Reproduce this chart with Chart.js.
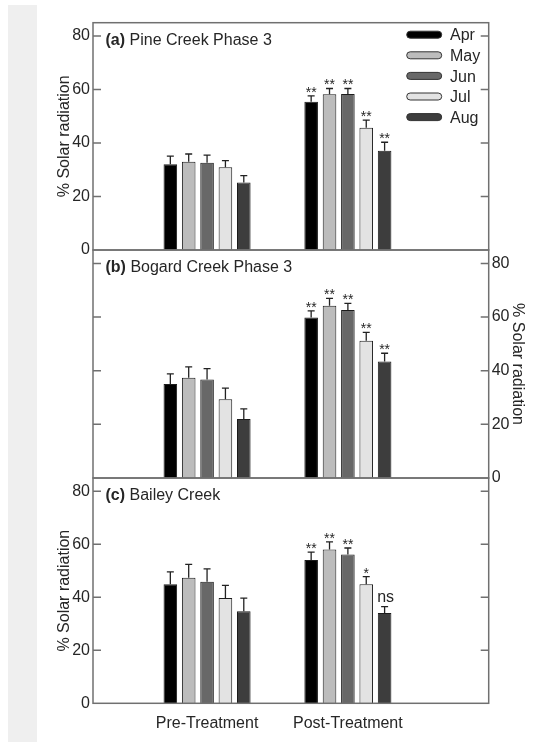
<!DOCTYPE html>
<html>
<head>
<meta charset="utf-8">
<script src="https://cdn.jsdelivr.net/npm/chart.js@4"></script>
<style>
html,body{margin:0;padding:0;background:#fff;}
#wrap{position:relative;width:537px;height:742px;background:#fff;overflow:hidden;}
#band{position:absolute;left:8px;top:5px;width:29px;height:737px;background:#efefef;}
canvas{position:absolute;left:0;}
</style>
</head>
<body>
<div id="wrap">
<div id="band"></div>
<canvas id="ca" width="537" height="264" style="top:0px;width:537px;height:264px"></canvas>
<canvas id="cb" width="537" height="255" style="top:236px;width:537px;height:255px"></canvas>
<canvas id="cc" width="537" height="278" style="top:464px;width:537px;height:278px"></canvas>
</div>
<script>
// ---------- data ----------
const months = ['Apr', 'May', 'Jun', 'Jul', 'Aug'];
const groupLabels = ['Pre-Treatment', 'Post-Treatment'];
const yTicks = [0, 20, 40, 60, 80];
const yLabel = '% Solar radiation';

const pinePre = [32.1, 33.0, 32.6, 30.9, 25.2];
const pinePreErr = [3.0, 2.9, 2.9, 2.5, 2.6];
const pinePost = [55.4, 58.2, 58.3, 45.7, 37.1];
const pinePostErr = [2.2, 2.2, 2.1, 2.9, 3.2];
const pineSig = ['**', '**', '**', '**', '**'];

const bogardPre = [35.0, 37.4, 36.7, 29.4, 22.0];
const bogardPreErr = [3.8, 4.0, 4.1, 4.1, 3.8];
const bogardPost = [59.8, 64.2, 62.6, 51.2, 43.4];
const bogardPostErr = [2.5, 2.8, 2.5, 3.1, 3.1];
const bogardSig = ['**', '**', '**', '**', '**'];

const baileyPre = [44.9, 47.4, 45.9, 39.7, 34.7];
const baileyPreErr = [4.7, 5.0, 4.8, 4.8, 5.0];
const baileyPost = [54.1, 58.0, 56.1, 44.9, 34.1];
const baileyPostErr = [2.9, 2.9, 2.5, 2.9, 2.4];
const baileySig = ['**', '**', '**', '*', 'ns'];

const panelTags = ['(a)', '(b)', '(c)'];
const panelNames = [' Pine Creek Phase 3', ' Bogard Creek Phase 3', ' Bailey Creek'];

// ---------- styling ----------
const monthColors = ['#000000', '#bcbcbc', '#686868', '#e3e3e3', '#3d3d3d'];
const FONT = "'Liberation Sans', Arial, Helvetica, sans-serif";
const TXT = '#262626';
Chart.defaults.font.family = FONT;
Chart.defaults.color = TXT;

function makeDatasets(pre, preErr, post, postErr, sig) {
  return months.map((m, i) => ({
    label: m,
    data: [{x: 1, y: pre[i]}, {x: 2, y: post[i]}],
    errors: [preErr[i], postErr[i]],
    sig: ['', sig[i]],
    backgroundColor: monthColors[i],
    borderColor: '#1c1c1c',
    borderWidth: 1,
    borderSkipped: 'start',
    categoryPercentage: 0.652,
    barPercentage: 0.74
  }));
}

const decor = {
  id: 'decor',
  afterDatasetsDraw(chart, args, opts) {
    const ctx = chart.ctx;
    const ys = chart.scales.y;
    const ca = chart.chartArea;
    ctx.save();
    // error bars and significance marks
    chart.data.datasets.forEach((ds, di) => {
      const meta = chart.getDatasetMeta(di);
      meta.data.forEach((el, j) => {
        const v = ds.data[j].y, e = ds.errors[j];
        const cy = ys.getPixelForValue(v + e);
        ctx.strokeStyle = '#222';
        ctx.lineWidth = 1.3;
        ctx.beginPath();
        ctx.moveTo(el.x, el.y);
        ctx.lineTo(el.x, cy);
        ctx.moveTo(el.x - 3.5, cy);
        ctx.lineTo(el.x + 3.5, cy);
        ctx.stroke();
        const s = ds.sig[j];
        if (s) {
          ctx.fillStyle = TXT;
          ctx.textAlign = 'center';
          ctx.textBaseline = 'alphabetic';
          if (s === 'ns') {
            ctx.font = '16px ' + FONT;
            ctx.fillText(s, el.x + 1, cy - 5);
          } else {
            ctx.font = '14px ' + FONT;
            ctx.fillText(s, el.x, cy + 1);
          }
        }
      });
    });
    // frame
    ctx.strokeStyle = '#707070';
    ctx.lineWidth = 1.5;
    ctx.strokeRect(ca.left, ca.top, ca.right - ca.left, ca.bottom - ca.top);
    ctx.beginPath();
    yTicks.forEach(t => {
      if (t === 0) return;
      const py = ys.getPixelForValue(t);
      ctx.moveTo(ca.left, py); ctx.lineTo(ca.left + 8, py);
      ctx.moveTo(ca.right, py); ctx.lineTo(ca.right - 8, py);
    });
    ctx.stroke();
    // panel title
    ctx.fillStyle = TXT;
    ctx.textAlign = 'left';
    ctx.textBaseline = 'alphabetic';
    ctx.font = 'bold 16px ' + FONT;
    const tx = ca.left + 12.5, ty = ca.top + 22;
    ctx.fillText(opts.tag, tx, ty);
    const w = ctx.measureText(opts.tag).width;
    ctx.font = '16px ' + FONT;
    ctx.fillText(opts.name, tx + w, ty);
    // legend
    if (opts.legend) {
      chart.data.datasets.forEach((ds, i) => {
        const cy = 34.7 + i * 20.6;
        ctx.fillStyle = ds.backgroundColor;
        ctx.strokeStyle = '#333';
        ctx.lineWidth = 1;
        ctx.beginPath();
        ctx.roundRect(406.7, cy - 3.5, 35, 7, 3.5);
        ctx.fill();
        ctx.stroke();
        ctx.fillStyle = TXT;
        ctx.font = '16px ' + FONT;
        ctx.textBaseline = 'middle';
        ctx.fillText(ds.label, 450, cy + 1.3);
      });
    }
    ctx.restore();
  }
};

function makeChart(id, datasets, p) {
  const yRight = p.yPos === 'right';
  return new Chart(document.getElementById(id), {
    type: 'bar',
    data: {datasets},
    plugins: [decor],
    options: {
      responsive: false,
      animation: false,
      layout: {
        autoPadding: false,
        padding: {left: yRight ? 93 : 0, right: yRight ? 0 : 48.3, top: p.top, bottom: 0}
      },
      plugins: {
        legend: {display: false},
        tooltip: {enabled: false},
        decor: {tag: p.tag, name: p.name, legend: p.legend}
      },
      scales: {
        x: {
          type: 'linear', min: 0.19, max: 3.0, offset: false,
          grid: {display: false, drawTicks: false},
          border: {display: false},
          afterBuildTicks: ax => { ax.ticks = [{value: 1}, {value: 2}]; },
          afterFit: ax => { ax.height = p.xh; },
          ticks: {
            display: p.showX, maxRotation: 0, minRotation: 0, autoSkip: false, padding: 11,
            font: {size: 16}, color: TXT,
            callback: v => groupLabels[v - 1] || ''
          }
        },
        y: {
          position: p.yPos,
          min: 0, max: 85,
          grid: {display: false, drawTicks: false},
          border: {display: false},
          afterBuildTicks: ax => { ax.ticks = yTicks.map(v => ({value: v})); },
          afterFit: ax => { ax.width = yRight ? 48.3 : 93; },
          ticks: {padding: 3, font: {size: 16}, color: TXT},
          title: {
            display: true, text: yLabel, color: TXT,
            font: {size: 16, lineHeight: 1.2},
            padding: {top: yRight ? 10.4 : 55.4, bottom: 0}
          }
        }
      }
    }
  });
}

// canvas a: top 0, area 22.7..250 ; canvas b: top 236, area 250..478 ; canvas c: top 464, area 478..703.3
makeChart('ca', makeDatasets(pinePre, pinePreErr, pinePost, pinePostErr, pineSig),
  {yPos: 'left', top: 22.7, xh: 14, showX: false, tag: panelTags[0], name: panelNames[0], legend: true});
makeChart('cb', makeDatasets(bogardPre, bogardPreErr, bogardPost, bogardPostErr, bogardSig),
  {yPos: 'right', top: 14, xh: 13, showX: false, tag: panelTags[1], name: panelNames[1], legend: false});
makeChart('cc', makeDatasets(baileyPre, baileyPreErr, baileyPost, baileyPostErr, baileySig),
  {yPos: 'left', top: 14, xh: 38.7, showX: true, tag: panelTags[2], name: panelNames[2], legend: false});
</script>
</body>
</html>
